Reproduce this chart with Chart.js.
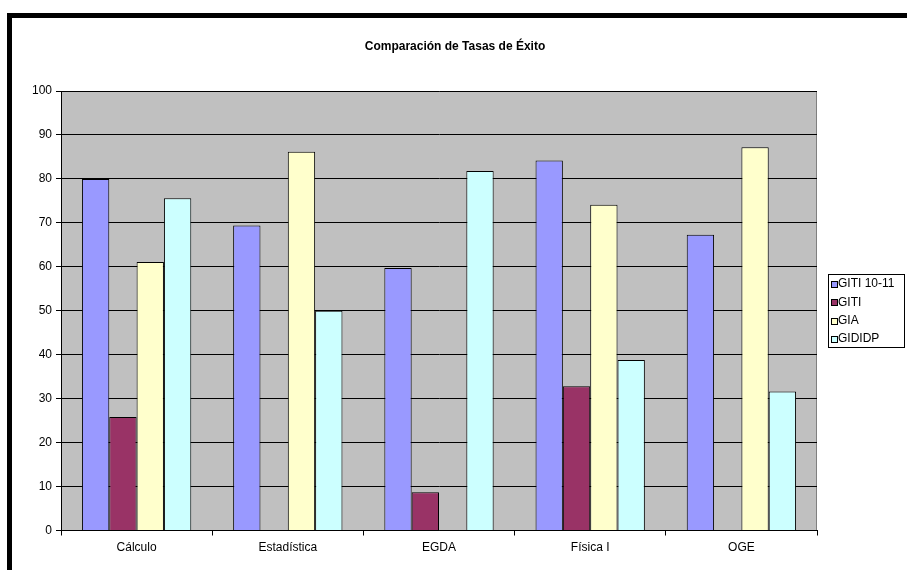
<!DOCTYPE html>
<html>
<head>
<meta charset="utf-8">
<script src="https://cdn.jsdelivr.net/npm/chart.js@4"></script>
<style>
  html, body { margin: 0; padding: 0; background: #fff; }
  #wrap { position: relative; width: 907px; height: 570px; }
</style>
</head>
<body>
<div id="wrap"><canvas id="chart" width="907" height="570"></canvas></div>
<script>
// Chart data
const chartTitle = 'Comparación de Tasas de Éxito';
const categories = ['Cálculo', 'Estadística', 'EGDA', 'Física I', 'OGE'];
const giti1011 = [80, 69.4, 59.7, 84.2, 67.3];
const giti = [25.8, null, 8.7, 32.8, null];
const gia = [61.1, 86.2, null, 74.1, 87.2];
const gididp = [75.6, 50.0, 81.8, 38.8, 31.6];
const yTicks = [0, 10, 20, 30, 40, 50, 60, 70, 80, 90, 100];

const FONT = 'Arial, "Liberation Sans", sans-serif';

// Grey plot background + black frame lines of the picture
const plotBackground = {
  id: 'plotBackground',
  beforeDraw(chart) {
    const { ctx, chartArea: a } = chart;
    ctx.save();
    ctx.fillStyle = '#000';
    ctx.fillRect(7, 13, 900, 5);
    ctx.fillRect(7, 13, 5, 557);
    ctx.fillStyle = '#c0c0c0';
    ctx.fillRect(a.left, a.top, a.right - a.left, a.bottom - a.top);
    ctx.strokeStyle = '#808080';
    ctx.lineWidth = 1;
    ctx.beginPath();
    ctx.moveTo(a.left, a.top + 0.5);
    ctx.lineTo(a.right - 0.5, a.top + 0.5);
    ctx.lineTo(a.right - 0.5, a.bottom);
    ctx.stroke();

    // title, centred on the whole picture like Excel does
    ctx.fillStyle = '#000';
    ctx.font = 'bold 12px ' + FONT;
    ctx.textAlign = 'center';
    ctx.textBaseline = 'middle';
    ctx.fillText(chartTitle, 455, 47);
    ctx.restore();
  }
};

// Excel-like boxed legend at the right
const boxLegend = {
  id: 'boxLegend',
  afterDraw(chart) {
    const { ctx, chartArea: a } = chart;
    const sets = chart.data.datasets;
    const rowH = 18.3;
    const w = 76, h = 73;
    const x = a.right + 11;
    const y = Math.round((a.top + a.bottom) / 2 - h / 2);
    ctx.save();
    ctx.fillStyle = '#fff';
    ctx.fillRect(x, y, w, h);
    ctx.strokeStyle = '#000';
    ctx.lineWidth = 1;
    ctx.strokeRect(x + 0.5, y + 0.5, w, h);
    ctx.font = '12px ' + FONT;
    ctx.textBaseline = 'middle';
    sets.forEach((ds, i) => {
      const cy = y + 10 + i * rowH;
      ctx.fillStyle = ds.backgroundColor;
      ctx.fillRect(x + 3.5, Math.round(cy - 3) + 0.5, 6, 6);
      ctx.strokeStyle = '#000';
      ctx.strokeRect(x + 3.5, Math.round(cy - 3) + 0.5, 6, 6);
      ctx.fillStyle = '#000';
      ctx.fillText(ds.label, x + 10, cy);
    });
    ctx.restore();
  }
};

function makeSet(label, data, color) {
  return {
    label: label,
    data: data,
    backgroundColor: color,
    borderColor: '#000',
    borderWidth: 1,
    categoryPercentage: 0.723,
    barPercentage: 1.0
  };
}

const ctx = document.getElementById('chart').getContext('2d');
new Chart(ctx, {
  type: 'bar',
  data: {
    labels: categories,
    datasets: [
      makeSet('GITI 10-11', giti1011, '#9999ff'),
      makeSet('GITI', giti, '#993366'),
      makeSet('GIA', gia, '#ffffcc'),
      makeSet('GIDIDP', gididp, '#ccffff')
    ]
  },
  options: {
    responsive: false,
    animation: false,
    maintainAspectRatio: false,
    layout: { padding: { left: 12, right: 90, top: 91, bottom: 0 } },
    plugins: {
      legend: { display: false },
      tooltip: { enabled: false },
      title: { display: false }
    },
    scales: {
      x: {
        offset: true,
        grid: {
          offset: true,
          drawOnChartArea: false,
          drawTicks: true,
          tickLength: 5,
          color: '#000'
        },
        border: { color: '#000', width: 1 },
        ticks: {
          color: '#000',
          padding: 5,
          maxRotation: 0,
          font: { family: FONT, size: 12 }
        },
        afterFit(scale) { scale.height = 39.5; }
      },
      y: {
        min: 0,
        max: 100,
        afterBuildTicks(scale) { scale.ticks = yTicks.map(v => ({ value: v })); },
        grid: {
          color: '#000',
          lineWidth: 1,
          drawTicks: true,
          tickLength: 5
        },
        border: { color: '#000', width: 1 },
        ticks: {
          color: '#000',
          padding: 4,
          font: { family: FONT, size: 12 }
        },
        afterFit(scale) { scale.width = 49; }
      }
    }
  },
  plugins: [plotBackground, boxLegend]
});
</script>
</body>
</html>
